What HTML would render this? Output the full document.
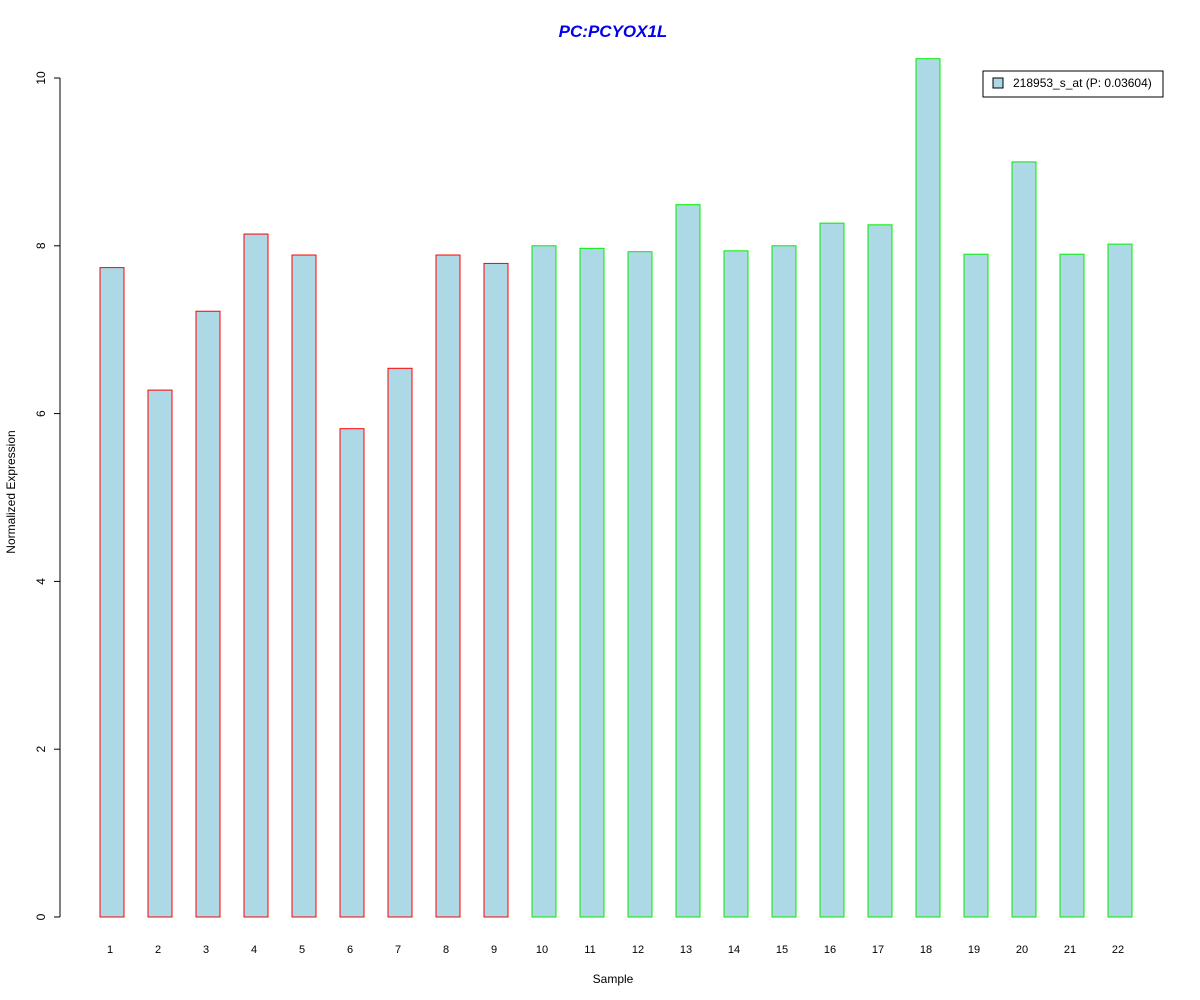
<!DOCTYPE html>
<html><head><meta charset="utf-8"><style>body{margin:0;background:#fff}svg{display:block;font-family:"Liberation Sans",Arial,sans-serif}</style></head>
<body>
<svg id="c" width="1200" height="1000">
<text x="613" y="37" text-anchor="middle" font-size="17" font-weight="bold" font-style="italic" fill="#0000ee">PC:PCYOX1L</text>
<text x="613" y="983" text-anchor="middle" font-size="12">Sample</text>
<text transform="translate(15,492) rotate(-90)" text-anchor="middle" font-size="12">Normalized Expression</text>
<g>
<rect x="983" y="71" width="180" height="26" fill="#fff" stroke="#000"/>
<rect x="993" y="78" width="10" height="10" fill="#add8e6" stroke="#000"/>
<text x="1013" y="87" font-size="12">218953_s_at (P: 0.03604)</text>
</g>
</svg>
<script>
const categories=["1","2","3","4","5","6","7","8","9","10","11","12","13","14","15","16","17","18","19","20","21","22"];
const values=[7.74,6.28,7.22,8.14,7.89,5.82,6.54,7.89,7.79,8.0,7.97,7.93,8.49,7.94,8.0,8.27,8.25,10.23,7.90,9.0,7.90,8.02];
const groups=["r","r","r","r","r","r","r","r","r","g","g","g","g","g","g","g","g","g","g","g","g","g"];
const yTicks=[0,2,4,6,8,10];
const svg=document.getElementById('c');const NS='http://www.w3.org/2000/svg';
const y=v=>917-v*83.9; const xc=i=>112+i*48;
function mk(t,a,p){const e=document.createElementNS(NS,t);for(const k in a)e.setAttribute(k,a[k]);(p||svg).appendChild(e);return e;}
const ax=mk('g',{});


mk('line',{x1:60,x2:60,y1:y(10),y2:y(0),stroke:'#000'},ax);
yTicks.forEach(t=>{mk('line',{x1:54,x2:60,y1:y(t),y2:y(t),stroke:'#000'},ax);
const tx=mk('text',{transform:`translate(45,${y(t)}) rotate(-90)`,'text-anchor':'middle','font-size':12},ax);tx.textContent=t;

});
values.forEach((v,i)=>{const r=mk('rect',{x:xc(i)-12,y:y(v),width:24,height:y(0)-y(v),fill:'#add8e6',stroke:groups[i]=='r'?'#ff0000':'#00ee00'});


const t=mk('text',{x:xc(i)-2,y:953,'text-anchor':'middle','font-size':11});t.textContent=categories[i];

});
</script>
</body></html>
